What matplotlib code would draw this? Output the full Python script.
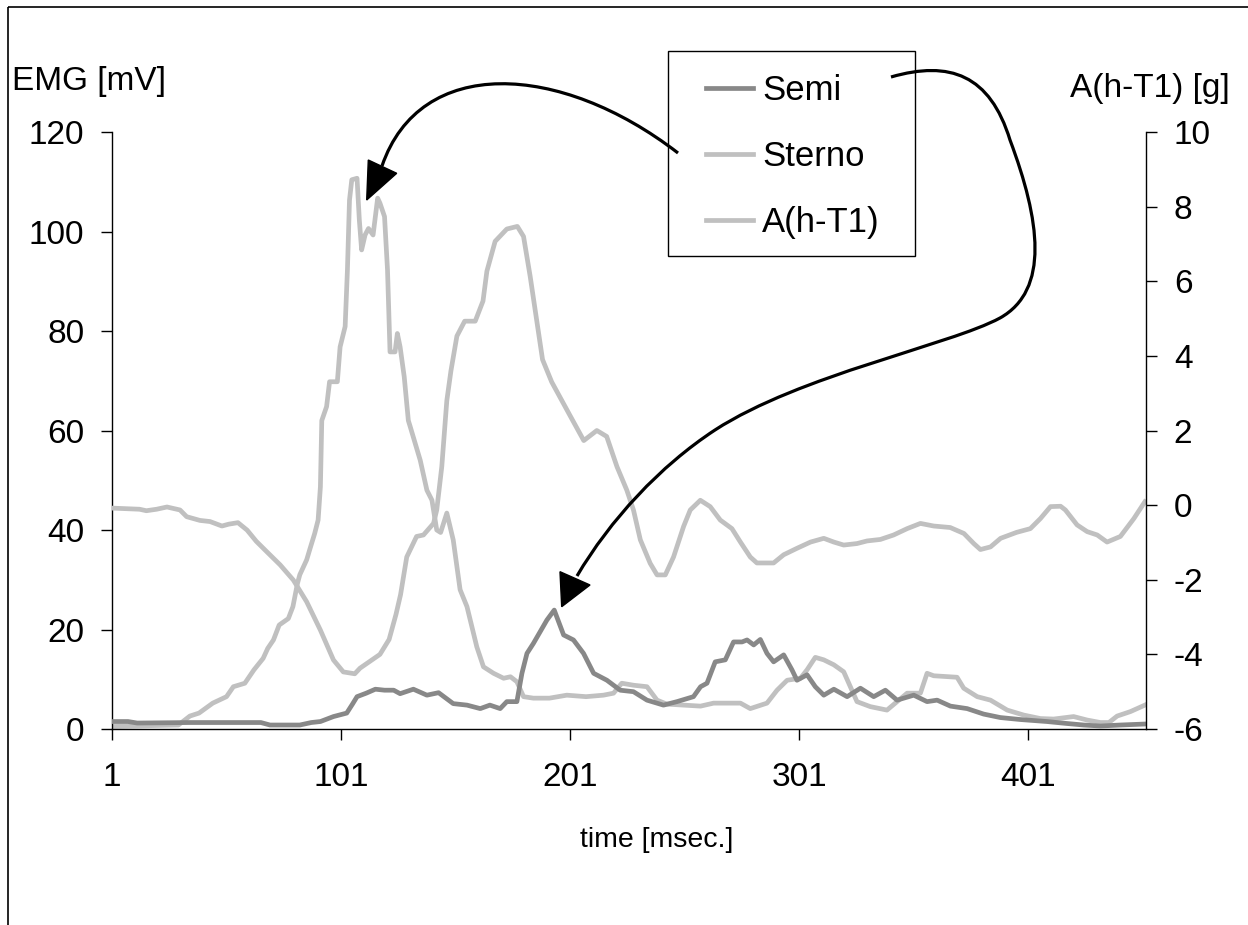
import matplotlib
matplotlib.use('Agg')
import matplotlib.pyplot as plt
import matplotlib.transforms as mtransforms
from matplotlib.path import Path
from matplotlib.patches import PathPatch, Polygon, Rectangle

# ---------------- data ----------------
semi_t = [1, 8, 12, 35, 66, 70, 83, 88, 92, 97.7, 103.5, 106, 108, 112, 116, 120, 124,
          126.8, 132.6, 138.5, 143.6, 150, 156, 161.8, 166, 170.5, 173.4, 177.8, 180,
          182.2, 185, 190.9, 194.1, 198.2, 202.5, 206.9, 211.3, 217.1, 222.9, 228.7,
          234.6, 241.8, 247.7, 254.9, 258, 260.8, 264.4, 268.8, 272.4, 276.1, 278.3,
          281.2, 284.1, 287, 289.9, 294.3, 297.9, 300.1, 304.5, 308.1, 311.8, 316.2,
          322, 327.8, 333.6, 338.7, 343.8, 351.1, 356.9, 361.3, 367.1, 374.4, 381.6,
          388.9, 397.7, 409.3, 418.1, 425.3, 432.6, 441.3, 452]
semi_v = [1.5, 1.5, 1.2, 1.3, 1.3, 0.8, 0.8, 1.3, 1.5, 2.5, 3.2, 5, 6.5, 7.2, 8, 7.8, 7.8,
          7.1, 8, 6.8, 7.3, 5.1, 4.8, 4.1, 4.8, 4.1, 5.5, 5.5, 11.2,
          15.2, 17.2, 21.9, 23.9, 18.9, 17.9, 15.2, 11.2, 9.8, 7.8, 7.5,
          5.8, 4.8, 5.5, 6.5, 8.5, 9.2, 13.5, 13.9, 17.5, 17.5, 17.9,
          16.9, 18, 15.2, 13.5, 14.9, 11.9, 9.8, 10.9, 8.5, 6.8, 8,
          6.5, 8.2, 6.5, 7.8, 5.8, 6.8, 5.5, 5.8, 4.6, 4.1, 3,
          2.3, 1.9, 1.5, 1.1, 0.8, 0.6, 0.8, 1]

sterno_t = [1, 30, 35, 39, 45, 51, 54, 59, 63, 67, 69, 71.5, 74, 78, 80, 82, 83, 86, 87.5,
            89.5, 91, 92, 92.6, 94.7, 96, 99.4, 100.6, 102.8, 103.8, 104.7, 105.7, 108,
            109, 110, 111.5, 113, 115, 116, 117, 118, 120, 121.3, 122.4, 124.6, 125.6,
            126.8, 128.6, 130.4, 131.2, 135.6, 138.5, 140.7, 142.8, 144.5, 147.2, 150,
            153, 156, 160.3, 163.2, 167.6, 172, 175, 177.8, 180.7, 185, 192, 199.6, 208,
            215.6, 220, 223.6, 228.7, 234.6, 239, 243.3, 250.6, 258, 263.7, 275.4, 279.7,
            287, 291.4, 295.8, 301.6, 304.5, 308.1, 311.8, 316.2, 320.5, 323.4, 326.3,
            332.1, 339.4, 343.8, 348.2, 354, 356.9, 359.8, 370, 372.9, 378.8, 384.6,
            391.9, 399.1, 406.4, 412.2, 420.9, 426.8, 432.6, 436.3, 439.9, 445.7, 452]
sterno_v = [0.5, 0.8, 2.6, 3.2, 5.2, 6.5, 8.5, 9.2, 11.9, 14.2, 16.2, 17.9, 20.9, 22.2, 24.6,
            29.3, 31, 34, 36.3, 39.3, 42, 48.7, 62, 64.8, 69.8, 69.8, 76.8, 80.9, 92.3,
            106.3, 110.4, 110.7, 102.3, 96.3, 99.3, 100.6, 99.3, 103, 106.7, 105.7, 103,
            92.3, 75.8, 75.8, 79.5, 76.8, 70.8, 62, 60.8, 54, 48, 46, 40, 39.5, 43.4, 38,
            28, 24.6, 16.5, 12.5, 11.2, 10.2, 10.5, 9.5, 6.5, 6.2, 6.2, 6.8, 6.5,
            6.8, 7.2, 9.2, 8.8, 8.5, 5.8, 5, 4.8, 4.6, 5.2, 5.2, 4.1,
            5.2, 7.8, 9.8, 10.2, 11.9, 14.4, 13.9, 12.9, 11.5, 8.5, 5.5,
            4.5, 3.8, 5.5, 7.2, 7.2, 11.2, 10.7, 10.4, 8.2, 6.5, 5.8,
            3.8, 2.8, 2.1, 2, 2.5, 1.8, 1.3, 1.3, 2.6, 3.5, 4.8]

acc_t = [1, 13, 16, 20.5, 25, 30.7, 33.6, 39.4, 43.8, 49, 52, 56, 60, 64, 68.6, 74.4, 80.2,
         86, 92, 97.7, 102, 107, 109.3, 118, 122, 125, 127, 129.7, 134, 137, 141.4, 142.8,
         145, 147.2, 149, 151.6, 155, 159.6, 163, 164.7, 168.3, 173.4, 178, 180.7, 183.6,
         186.5, 189, 193, 197, 201, 207, 212.7, 217, 221.5, 225.8, 228.7, 231.7, 236, 239,
         242.6, 246.2, 250.6, 253.5, 257.9, 262.2, 266.6, 271.7, 275.4, 279.7, 282.6,
         289.9, 294.3, 300, 306, 311.8, 316.2, 320.5, 326.3, 330.7, 336.5, 342.3, 348.2,
         354, 359.8, 367, 373, 377.3, 380.2, 384.6, 389, 396, 402, 406.4, 410.8, 415.2,
         417.3, 422.4, 426.8, 431.2, 435.5, 441.3, 447.2, 452]
acc_v = [-0.08, -0.11, -0.15, -0.11, -0.05, -0.13, -0.31, -0.41, -0.44, -0.56, -0.51, -0.47,
         -0.67, -0.97, -1.25, -1.6, -2.01, -2.59, -3.35, -4.15, -4.47, -4.52, -4.37, -4.0,
         -3.6, -2.93, -2.4, -1.39, -0.84, -0.8, -0.49, -0.13, 1.03, 2.8, 3.6, 4.53, 4.93,
         4.93, 5.47, 6.27, 7.07, 7.4, 7.47, 7.2, 6.13, 4.93, 3.9, 3.3, 2.85, 2.4, 1.73,
         2.0, 1.84, 1.03, 0.4, -0.13, -0.93, -1.56, -1.87, -1.87, -1.39, -0.57, -0.13,
         0.13, -0.04, -0.4, -0.63, -0.99, -1.39, -1.55, -1.55, -1.33, -1.16, -0.99, -0.89,
         -0.99, -1.07, -1.03, -0.96, -0.92, -0.8, -0.63, -0.49, -0.56, -0.6, -0.76, -1.03,
         -1.19, -1.12, -0.89, -0.73, -0.63, -0.36, -0.04, -0.03, -0.13, -0.53, -0.71, -0.8,
         -0.99, -0.84, -0.36, 0.09]

x_ticks = [1, 101, 201, 301, 401]
left_ticks = [0, 20, 40, 60, 80, 100, 120]
right_ticks = [-6, -4, -2, 0, 2, 4, 6, 8, 10]
series_labels = ['Semi', 'Sterno', 'A(h-T1)']

# ---------------- styling ----------------
plt.rcParams['font.family'] = ['Liberation Sans', 'DejaVu Sans']
plt.rcParams['axes.unicode_minus'] = False
W, H = 1248, 925
FS = 24
DARK = '#888888'
LIGHT = '#c0c0c0'
LW = 3.4

fig = plt.figure(figsize=(W / 100, H / 100), dpi=100)
fig.patch.set_facecolor('white')
px = mtransforms.Affine2D().scale(1 / W, -1 / H).translate(0, 1) + fig.transFigure

ax = fig.add_axes([112 / W, (H - 729) / H, (1146 - 112) / W, (729 - 132) / H])
ax2 = ax.twinx()

l1, = ax.plot(semi_t, semi_v, color=DARK, lw=LW, zorder=3, label=series_labels[0])
l2, = ax.plot(sterno_t, sterno_v, color=LIGHT, lw=LW, zorder=2, label=series_labels[1])
l3, = ax2.plot(acc_t, acc_v, color=LIGHT, lw=LW, label=series_labels[2])

ax.set_xlim(1, 452.5)
ax.set_ylim(0, 120)
ax2.set_ylim(-6, 10)
ax.set_xticks(x_ticks)
ax.set_xticklabels([str(v) for v in x_ticks])
ax.set_yticks(left_ticks)
ax2.set_yticks(right_ticks)

for a in (ax, ax2):
    for s in a.spines.values():
        s.set_visible(False)
ax.spines['left'].set_visible(True)
ax.spines['bottom'].set_visible(True)
ax2.spines['right'].set_visible(True)
for s in (ax.spines['left'], ax.spines['bottom'], ax2.spines['right']):
    s.set_color('black')
    s.set_linewidth(1.0)

ax.tick_params(axis='both', direction='out', length=8, width=1, labelsize=FS, pad=12,
               colors='black')
ax.tick_params(axis='x', pad=16)
ax2.tick_params(axis='y', direction='out', length=8, width=1, labelsize=FS, pad=12,
                colors='black')

# axis titles
fig.text(12 / W, 1 - 90 / H, 'EMG [mV]', fontsize=FS, ha='left', va='baseline')
fig.text(1230 / W, 1 - 97 / H, 'A(h-T1) [g]', fontsize=FS, ha='right', va='baseline')
fig.text(657 / W, 1 - 840 / H, 'time [msec.]', fontsize=20.5, ha='center', va='center')

# legend box + entries
fig.add_artist(Rectangle((668, 51), 247, 205, transform=px, facecolor='white',
                         edgecolor='black', lw=1.0, zorder=5))
leg = fig.legend([l1, l2, l3], series_labels, loc='upper left',
                 bbox_to_anchor=(689 / W, 1 - 57 / H), frameon=False, fontsize=25,
                 handlelength=1.35, handletextpad=0.25, labelspacing=0.95, borderpad=0)
leg.set_zorder(6)

# figure border
fig.add_artist(Rectangle((8, 7), 1400, 1100, transform=px, fill=False,
                         edgecolor='black', lw=1.2))

# curved arrows
def bez(points):
    codes = [Path.MOVETO] + [Path.CURVE4] * (len(points) - 1)
    return Path(points, codes)

a1 = bez([(678, 153), (560, 62), (420, 55), (382, 166)])
fig.add_artist(PathPatch(a1, transform=px, fill=False, edgecolor='black', lw=2.3, zorder=7))
fig.add_artist(Polygon([(366.7, 200), (368.3, 160), (396.7, 173.3)], closed=True,
                       transform=px, facecolor='black', edgecolor='black', zorder=7))

a2 = bez([(891, 77), (950, 60), (990, 75), (1010, 140),
          (1040, 220), (1050, 290), (1000, 318),
          (950, 345), (800, 375), (715, 430),
          (660, 466), (610, 520), (577, 576)])
fig.add_artist(PathPatch(a2, transform=px, fill=False, edgecolor='black', lw=2.3, zorder=7))
fig.add_artist(Polygon([(561.7, 606.7), (560, 571.7), (590, 585)], closed=True,
                       transform=px, facecolor='black', edgecolor='black', zorder=7))

fig.savefig('out.png', dpi=100, facecolor='white')
